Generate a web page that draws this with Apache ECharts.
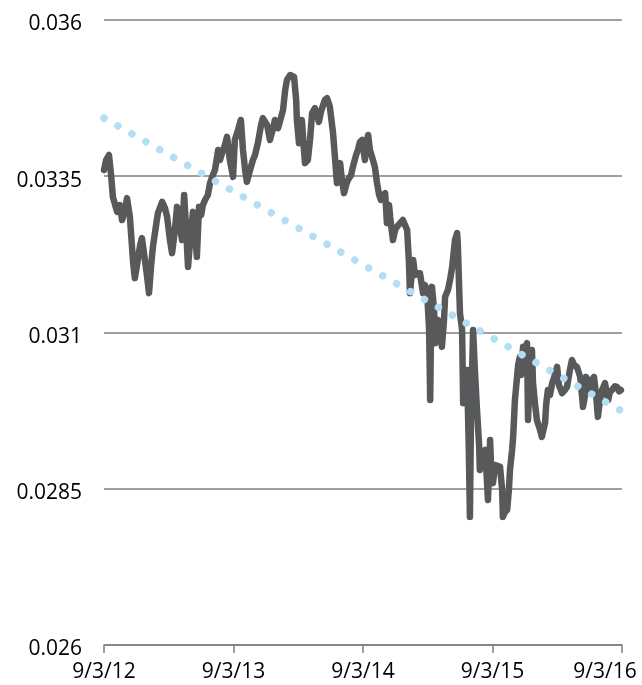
<!DOCTYPE html>
<html>
<head>
<meta charset="utf-8">
<script src="https://cdn.jsdelivr.net/npm/echarts@6/dist/echarts.min.js"></script>
<style>
html,body{margin:0;padding:0;background:#fff;}
#chart{width:642px;height:685px;}
</style>
</head>
<body>
<div id="chart"></div>
<script>
const dates = [
'2012-09-03','2012-09-09','2012-09-17','2012-09-23','2012-09-28','2012-10-10','2012-10-18','2012-10-24','2012-11-01','2012-11-07',
'2012-11-15','2012-11-24','2012-11-29','2012-12-05','2012-12-14','2012-12-19','2012-12-28','2013-01-02','2013-01-08','2013-01-14',
'2013-01-19','2013-01-28','2013-02-02','2013-02-14','2013-02-22','2013-02-28','2013-03-08','2013-03-14','2013-03-22','2013-03-28',
'2013-04-05','2013-04-11','2013-04-17','2013-04-22','2013-04-28','2013-05-04','2013-05-12','2013-05-18','2013-05-23','2013-05-29',
'2013-06-04','2013-06-09','2013-06-15','2013-06-23','2013-06-29','2013-07-07','2013-07-13','2013-07-22','2013-07-27','2013-08-02',
'2013-08-10','2013-08-16','2013-08-24','2013-09-02','2013-09-07','2013-09-16','2013-09-24','2013-09-30','2013-10-06','2013-10-11',
'2013-10-20','2013-10-28','2013-11-03','2013-11-11','2013-11-20','2013-11-25','2013-12-07','2013-12-15','2013-12-24','2013-12-29',
'2014-01-07','2014-01-12','2014-01-21','2014-01-27','2014-02-01','2014-02-10','2014-02-15','2014-02-21','2014-02-27','2014-03-01',
'2014-03-07','2014-03-15','2014-03-21','2014-03-24','2014-04-01','2014-04-07','2014-04-13','2014-04-21','2014-04-27','2014-05-02',
'2014-05-08','2014-05-14','2014-05-19','2014-05-25','2014-06-02','2014-06-11','2014-06-17','2014-06-22','2014-06-28','2014-07-01',
'2014-07-06','2014-07-12','2014-07-18','2014-07-23','2014-08-01','2014-08-06','2014-08-15','2014-08-20','2014-08-26','2014-09-01',
'2014-09-09','2014-09-15','2014-09-18','2014-09-23','2014-09-29','2014-10-07','2014-10-13','2014-10-19','2014-10-24','2014-10-30',
'2014-11-05','2014-11-10','2014-11-16','2014-11-19','2014-11-27','2014-12-03','2014-12-08','2014-12-17','2014-12-25','2014-12-31',
'2015-01-06','2015-01-11','2015-01-14','2015-01-20','2015-01-23','2015-01-28','2015-02-03','2015-02-11','2015-02-20','2015-02-25',
'2015-03-03','2015-03-09','2015-03-12','2015-03-14','2015-03-17','2015-03-23','2015-03-26','2015-03-31','2015-04-03','2015-04-09',
'2015-04-14','2015-04-20','2015-04-23','2015-05-01','2015-05-07','2015-05-13','2015-05-18','2015-05-21','2015-05-27','2015-05-29',
'2015-06-01','2015-06-04','2015-06-10','2015-06-13','2015-06-18','2015-06-24','2015-06-29','2015-07-02','2015-07-05','2015-07-11',
'2015-07-16','2015-07-22','2015-07-28','2015-07-30','2015-08-05','2015-08-14','2015-08-19','2015-08-22','2015-08-28','2015-08-31',
'2015-09-05','2015-09-11','2015-09-16','2015-09-25','2015-10-01','2015-10-03','2015-10-09','2015-10-15','2015-10-20','2015-10-23',
'2015-10-29','2015-11-01','2015-11-06','2015-11-12','2015-11-15','2015-11-20','2015-11-23','2015-11-29','2015-12-04','2015-12-10',
'2015-12-13','2015-12-16','2015-12-19','2015-12-24','2015-12-27','2016-01-02','2016-01-07','2016-01-16','2016-01-21','2016-01-30',
'2016-02-02','2016-02-07','2016-02-13','2016-02-19','2016-02-24','2016-03-04','2016-03-09','2016-03-18','2016-03-26','2016-04-01',
'2016-04-09','2016-04-15','2016-04-21','2016-04-29','2016-05-08','2016-05-13','2016-05-16','2016-05-22','2016-05-25','2016-05-30',
'2016-06-05','2016-06-10','2016-06-16','2016-06-22','2016-06-27','2016-07-03','2016-07-09','2016-07-17','2016-07-23','2016-07-26',
'2016-07-31','2016-08-06','2016-08-14','2016-08-20','2016-08-26','2016-08-31'
];
const values = [
0.0336,0.03376,0.03384,0.03352,0.03317,0.03293,0.03304,0.0328,0.03296,0.03315,
0.03285,0.03213,0.03187,0.03208,0.0324,0.03251,0.03213,0.03192,0.03163,0.03208,
0.03237,0.03272,0.03291,0.03309,0.03299,0.03285,0.03248,0.03227,0.03264,0.03301,
0.03272,0.03248,0.0332,0.03272,0.03205,0.03248,0.03293,0.03256,0.03221,0.03301,
0.03288,0.03304,0.03312,0.0332,0.03339,0.03352,0.0336,0.03392,0.03376,0.03387,
0.034,0.03413,0.03376,0.03349,0.03408,0.03424,0.0344,0.03392,0.0336,0.03341,
0.0336,0.03376,0.03384,0.03403,0.03432,0.03443,0.03432,0.03408,0.03427,0.0344,
0.03427,0.03429,0.03456,0.03488,0.03504,0.03512,0.03515,0.03509,0.03472,0.0344,
0.03403,0.0344,0.03392,0.03371,0.03376,0.03408,0.03451,0.03459,0.03448,0.03437,
0.03453,0.03464,0.03472,0.03475,0.03461,0.03419,0.03376,0.03339,0.0335,0.03371,
0.03344,0.03323,0.03336,0.03344,0.03352,0.03365,0.03384,0.03392,0.03405,0.03408,
0.03376,0.03408,0.03416,0.03392,0.03381,0.03365,0.03339,0.0332,0.03312,0.0332,
0.03323,0.03275,0.03304,0.03285,0.03248,0.03264,0.03269,0.03275,0.0328,0.03272,
0.03264,0.03213,0.03163,0.032,0.03216,0.03192,0.03195,0.03195,0.03163,0.03176,
0.03168,0.03104,0.02992,0.03088,0.03173,0.03136,0.03083,0.03112,0.0312,0.03096,
0.03077,0.0312,0.03157,0.03168,0.03184,0.03205,0.03232,0.03248,0.03259,0.0324,
0.03184,0.03131,0.03104,0.02987,0.03016,0.0304,0.02912,0.02805,0.0296,0.03104,
0.0304,0.02976,0.0292,0.0288,0.02904,0.02912,0.02864,0.02832,0.02928,0.0288,
0.02859,0.02888,0.02891,0.02885,0.02848,0.02805,0.02813,0.02816,0.02848,0.0288,
0.02912,0.02933,0.02992,0.03029,0.03048,0.03061,0.03032,0.03077,0.03069,0.03083,
0.0296,0.03008,0.03048,0.03072,0.03019,0.02984,0.0296,0.02944,0.02933,0.02955,
0.02984,0.03008,0.03,0.03019,0.03027,0.03045,0.03016,0.03003,0.03008,0.03013,
0.0304,0.03056,0.03048,0.03045,0.03029,0.03,0.02981,0.03,0.03029,0.03019,
0.03008,0.03024,0.03029,0.03,0.02965,0.02992,0.03008,0.03019,0.03,0.02992,
0.03005,0.03008,0.03014,0.03013,0.03006,0.03008
];
const trendDates = ['2012-09-03','2016-09-03'];
const trendValues = [0.03443,0.02974];
const tickDates = ['2012-09-03','2013-09-03','2014-09-03','2015-09-03','2016-09-03'];
const tickLabels = ['9/3/12','9/3/13','9/3/14','9/3/15','9/3/16'];
const yTicks = [0.026,0.0285,0.031,0.0335,0.036];

// day number since the first tick date (UTC, no DST)
function dayNum(s){const p=s.split('-');return Date.UTC(+p[0],+p[1]-1,+p[2])/86400000;}
const day0 = dayNum(tickDates[0]);
function dOff(s){return Math.round(dayNum(s)-day0);}
const tickDays = tickDates.map(dOff);
const xMax = tickDays[tickDays.length-1];
const xInterval = xMax/(tickDays.length-1);

const chart = echarts.init(document.getElementById('chart'), null, {renderer:'canvas'});
const FONT = '"Open Sans", sans-serif';
chart.setOption({
  animation:false,
  backgroundColor:'#ffffff',
  grid:{left:104,right:20,top:20,bottom:40,containLabel:false},
  xAxis:{
    type:'value',
    min:0, max:xMax, interval:xInterval,
    axisLine:{show:true,lineStyle:{color:'#808080',width:1.5}},
    axisTick:{show:true,length:8,lineStyle:{color:'#808080',width:1.5}},
    axisLabel:{
      fontFamily:FONT,fontSize:21,color:'#000',margin:17,
      showMinLabel:true,showMaxLabel:true,
      formatter:function(v){
        const i=Math.round(v/xInterval);
        if(i<0||i>=tickLabels.length) return '';
        if(i===tickLabels.length-1) return '{last|'+tickLabels[i]+'}';
        return tickLabels[i];
      },
      rich:{last:{fontFamily:FONT,fontSize:21,color:'#000',padding:[0,34,0,0]}}
    },
    splitLine:{show:false}
  },
  yAxis:{
    type:'value',
    min:yTicks[0], max:yTicks[yTicks.length-1], interval:0.0025,
    axisLine:{show:false}, axisTick:{show:false},
    axisLabel:{fontFamily:FONT,fontSize:21,color:'#000',margin:22,
      formatter:function(v){
        for(let k=0;k<yTicks.length;k++){ if(Math.abs(yTicks[k]-v)<1e-9) return '{y|'+String(yTicks[k])+'}'; }
        return '';
      },
      rich:{y:{fontFamily:FONT,fontSize:21,color:'#000',padding:[9,0,0,0]}}
    },
    splitLine:{show:true,lineStyle:{color:'#7f7f7f',width:1.5}}
  },
  series:[
    {
      type:'line',
      data:dates.map((d,i)=>[dOff(d),values[i]]),
      showSymbol:false, symbol:'none',
      lineStyle:{color:'#58595b',width:6.5,join:'round',cap:'round'},
      z:2
    },
    {
      type:'line',
      data:trendDates.map((d,i)=>[dOff(d),trendValues[i]]),
      showSymbol:false, symbol:'none',
      lineStyle:{color:'#b3dff5',width:7.5,type:[0.01,16],cap:'round'},
      z:3
    }
  ]
});
</script>
</body>
</html>
